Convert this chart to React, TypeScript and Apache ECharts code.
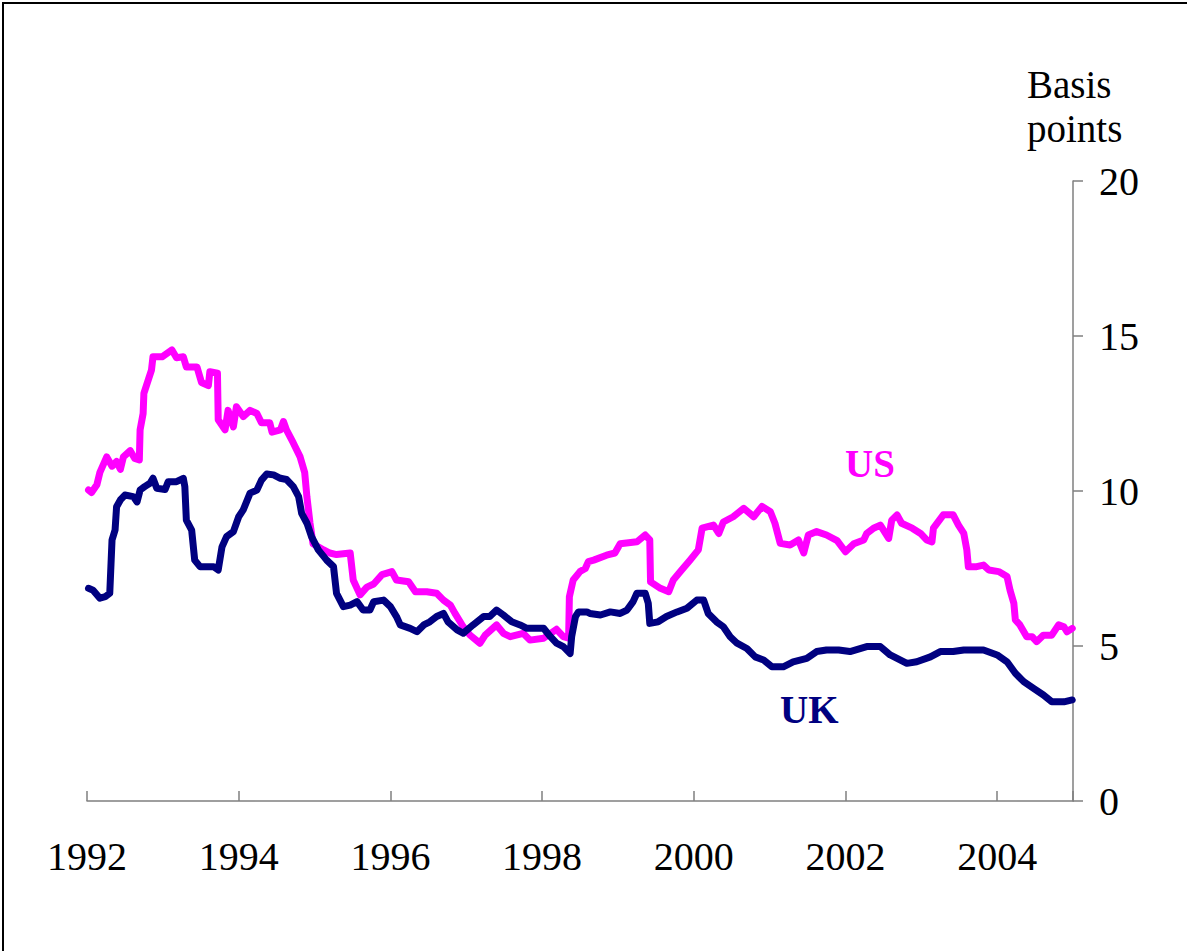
import React, { useEffect, useRef } from "react";
import * as echarts from "echarts";

// US series: [decimal year, basis points]
const usSeries: [number, number][] = [
  [1992.02, 10.03], [1992.06, 9.95], [1992.13, 10.2], [1992.17, 10.6], [1992.26, 11.1], [1992.33, 10.8],
  [1992.39, 10.95], [1992.44, 10.7], [1992.48, 11.1], [1992.57, 11.3], [1992.63, 11.05], [1992.69, 11.0],
  [1992.70, 11.97], [1992.74, 12.5], [1992.75, 13.15], [1992.81, 13.6], [1992.85, 13.9], [1992.87, 14.33],
  [1992.99, 14.33], [1993.12, 14.55], [1993.18, 14.3], [1993.27, 14.33], [1993.31, 14.0], [1993.45, 14.0],
  [1993.51, 13.5], [1993.60, 13.4], [1993.62, 13.85], [1993.72, 13.8], [1993.73, 12.3], [1993.82, 11.97],
  [1993.86, 12.6], [1993.93, 12.07], [1993.97, 12.72], [1994.06, 12.4], [1994.15, 12.6], [1994.24, 12.5],
  [1994.30, 12.2], [1994.41, 12.2], [1994.44, 11.9], [1994.55, 11.97], [1994.59, 12.24], [1994.63, 11.97],
  [1994.72, 11.55], [1994.81, 11.1], [1994.87, 10.6], [1994.90, 9.8], [1994.94, 8.97], [1994.98, 8.3],
  [1995.12, 8.1], [1995.20, 8.0], [1995.29, 7.95], [1995.47, 8.0], [1995.51, 7.13], [1995.60, 6.65],
  [1995.69, 6.9], [1995.78, 7.0], [1995.89, 7.3], [1996.02, 7.4], [1996.08, 7.13], [1996.24, 7.07],
  [1996.33, 6.75], [1996.48, 6.75], [1996.61, 6.7], [1996.70, 6.48], [1996.79, 6.32], [1996.85, 6.06],
  [1996.96, 5.62], [1997.05, 5.35], [1997.18, 5.09], [1997.25, 5.35], [1997.40, 5.68], [1997.49, 5.41],
  [1997.58, 5.3], [1997.75, 5.41], [1997.84, 5.19], [1998.02, 5.25], [1998.19, 5.54], [1998.28, 5.3],
  [1998.35, 5.25], [1998.36, 6.59], [1998.41, 7.13], [1998.50, 7.4], [1998.57, 7.5], [1998.61, 7.72],
  [1998.68, 7.77], [1998.85, 7.93], [1998.96, 8.0], [1999.03, 8.3], [1999.25, 8.36], [1999.36, 8.58],
  [1999.42, 8.42], [1999.43, 7.07], [1999.56, 6.86], [1999.67, 6.75], [1999.73, 7.13], [1999.84, 7.45],
  [1999.95, 7.77], [2000.06, 8.1], [2000.11, 8.8], [2000.26, 8.9], [2000.33, 8.63], [2000.39, 9.0],
  [2000.52, 9.17], [2000.66, 9.44], [2000.79, 9.17], [2000.90, 9.5], [2001.01, 9.33], [2001.07, 8.96],
  [2001.14, 8.31], [2001.27, 8.26], [2001.38, 8.42], [2001.45, 8.0], [2001.51, 8.58], [2001.62, 8.69],
  [2001.75, 8.58], [2001.89, 8.4], [2002.00, 8.04], [2002.11, 8.3], [2002.24, 8.42], [2002.28, 8.63],
  [2002.37, 8.8], [2002.46, 8.9], [2002.57, 8.47], [2002.61, 9.06], [2002.68, 9.23], [2002.74, 8.96],
  [2002.88, 8.8], [2002.99, 8.63], [2003.07, 8.42], [2003.14, 8.36], [2003.16, 8.8], [2003.29, 9.23],
  [2003.42, 9.23], [2003.49, 8.9], [2003.56, 8.63], [2003.60, 8.1], [2003.62, 7.56], [2003.73, 7.56],
  [2003.82, 7.61], [2003.89, 7.45], [2004.02, 7.4], [2004.13, 7.24], [2004.17, 6.8], [2004.22, 6.38],
  [2004.24, 5.84], [2004.30, 5.68], [2004.39, 5.3], [2004.46, 5.3], [2004.52, 5.14], [2004.61, 5.35],
  [2004.72, 5.35], [2004.81, 5.68], [2004.88, 5.62], [2004.92, 5.46], [2004.99, 5.57],
];

// UK series: [decimal year, basis points]
const ukSeries: [number, number][] = [
  [1992.02, 6.86], [1992.08, 6.8], [1992.17, 6.54], [1992.24, 6.59], [1992.30, 6.7], [1992.33, 8.42],
  [1992.37, 8.74], [1992.39, 9.49], [1992.44, 9.71], [1992.50, 9.87], [1992.61, 9.82], [1992.66, 9.65],
  [1992.70, 10.03], [1992.76, 10.14], [1992.83, 10.25], [1992.87, 10.41], [1992.92, 10.09], [1993.03, 10.05],
  [1993.07, 10.3], [1993.18, 10.3], [1993.27, 10.41], [1993.29, 10.14], [1993.31, 9.06], [1993.38, 8.74],
  [1993.42, 7.77], [1993.49, 7.56], [1993.67, 7.56], [1993.73, 7.45], [1993.78, 8.2], [1993.84, 8.53],
  [1993.93, 8.69], [1994.00, 9.17], [1994.06, 9.39], [1994.15, 9.93], [1994.24, 10.03], [1994.30, 10.35],
  [1994.37, 10.55], [1994.46, 10.52], [1994.55, 10.41], [1994.63, 10.37], [1994.72, 10.14], [1994.79, 9.82],
  [1994.83, 9.28], [1994.90, 8.96], [1994.96, 8.53], [1995.05, 8.1], [1995.16, 7.77], [1995.25, 7.56],
  [1995.29, 6.7], [1995.38, 6.27], [1995.47, 6.32], [1995.56, 6.43], [1995.64, 6.16], [1995.73, 6.16],
  [1995.78, 6.43], [1995.91, 6.48], [1996.00, 6.27], [1996.08, 5.95], [1996.13, 5.68], [1996.26, 5.57],
  [1996.35, 5.46], [1996.44, 5.68], [1996.52, 5.78], [1996.61, 5.95], [1996.70, 6.05], [1996.76, 5.78],
  [1996.88, 5.52], [1996.96, 5.41], [1997.09, 5.68], [1997.23, 5.95], [1997.31, 5.95], [1997.40, 6.16],
  [1997.49, 6.0], [1997.60, 5.78], [1997.71, 5.68], [1997.80, 5.57], [1998.02, 5.57], [1998.11, 5.3],
  [1998.19, 5.09], [1998.28, 4.98], [1998.37, 4.76], [1998.39, 5.3], [1998.44, 5.95], [1998.48, 6.1],
  [1998.59, 6.1], [1998.63, 6.05], [1998.77, 6.0], [1998.90, 6.1], [1999.03, 6.05], [1999.12, 6.16],
  [1999.20, 6.43], [1999.25, 6.7], [1999.36, 6.7], [1999.40, 6.38], [1999.42, 5.73], [1999.53, 5.78],
  [1999.64, 5.95], [1999.78, 6.1], [1999.91, 6.22], [2000.04, 6.48], [2000.13, 6.48], [2000.19, 6.05],
  [2000.30, 5.78], [2000.39, 5.62], [2000.48, 5.3], [2000.57, 5.09], [2000.70, 4.92], [2000.81, 4.65],
  [2000.92, 4.55], [2001.03, 4.33], [2001.18, 4.33], [2001.31, 4.49], [2001.49, 4.6], [2001.62, 4.82],
  [2001.75, 4.87], [2001.91, 4.87], [2002.06, 4.82], [2002.28, 4.98], [2002.46, 4.98], [2002.59, 4.71],
  [2002.81, 4.44], [2002.94, 4.49], [2003.12, 4.65], [2003.25, 4.82], [2003.42, 4.82], [2003.56, 4.87],
  [2003.82, 4.87], [2004.00, 4.71], [2004.13, 4.49], [2004.24, 4.12], [2004.35, 3.85], [2004.48, 3.63],
  [2004.61, 3.42], [2004.72, 3.2], [2004.88, 3.2], [2004.99, 3.26],
];

const xMin = 1992;
const xMax = 2005;
const yTicks = [0, 5, 10, 15, 20];
const seriesNames = ["US", "UK"];
const seriesColors = ["#FF00FF", "#000080"];
const axisTitle = "Basis\npoints";

const FONT = '"Liberation Serif", "Times New Roman", serif';

export default function App() {
  const ref = useRef<HTMLDivElement>(null);
  useEffect(() => {
    if (!ref.current) return;
    const chart = echarts.init(ref.current, null, { renderer: "svg" });
    chart.setOption({
      animation: false,
      backgroundColor: "#ffffff",
      grid: { left: 87, right: 114, top: 181, bottom: 150, containLabel: false },
      xAxis: {
        type: "value",
        min: xMin,
        max: xMax,
        interval: 2,
        splitLine: { show: false },
        axisLine: { lineStyle: { color: "#7f7f7f", width: 1.5 } },
        axisTick: { inside: true, length: 10, lineStyle: { color: "#7f7f7f", width: 1.5 } },
        axisLabel: {
          margin: 35,
          color: "#000",
          fontFamily: FONT,
          fontSize: 40,
          formatter: (v: number) => (v > 2004 ? "" : String(v)),
        },
      },
      yAxis: {
        type: "value",
        position: "right",
        min: yTicks[0],
        max: yTicks[yTicks.length - 1],
        interval: 5,
        splitLine: { show: false },
        axisLine: { show: true, lineStyle: { color: "#7f7f7f", width: 1.5 } },
        axisTick: { show: true, inside: false, length: 10, lineStyle: { color: "#7f7f7f", width: 1.5 } },
        axisLabel: { margin: 26, color: "#000", fontFamily: FONT, fontSize: 40 },
      },
      graphic: [
        {
          type: "rect",
          shape: { x: 3, y: 3, width: 1300, height: 1100 },
          style: { fill: "none", stroke: "#000", lineWidth: 2 },
          silent: true,
        },
        {
          type: "text",
          left: 1027,
          top: 62,
          style: { text: axisTitle, font: `39px ${FONT}`, fill: "#000", lineHeight: 44 },
        },
        {
          type: "text",
          left: 845,
          top: 444,
          style: { text: seriesNames[0], font: `bold 39px ${FONT}`, fill: seriesColors[0] },
        },
        {
          type: "text",
          left: 780,
          top: 690,
          style: { text: seriesNames[1], font: `bold 39px ${FONT}`, fill: seriesColors[1] },
        },
      ],
      series: [
        {
          name: seriesNames[0],
          type: "line",
          data: usSeries,
          showSymbol: false,
          lineStyle: { color: seriesColors[0], width: 7, cap: "round", join: "round" },
          z: 2,
        },
        {
          name: seriesNames[1],
          type: "line",
          data: ukSeries,
          showSymbol: false,
          lineStyle: { color: seriesColors[1], width: 7, cap: "round", join: "round" },
          z: 3,
        },
      ],
    });
    return () => chart.dispose();
  }, []);
  return (
    <div
      ref={ref}
      style={{ position: "absolute", left: 0, top: 0, width: 1187, height: 951, background: "#fff" }}
    />
  );
}
